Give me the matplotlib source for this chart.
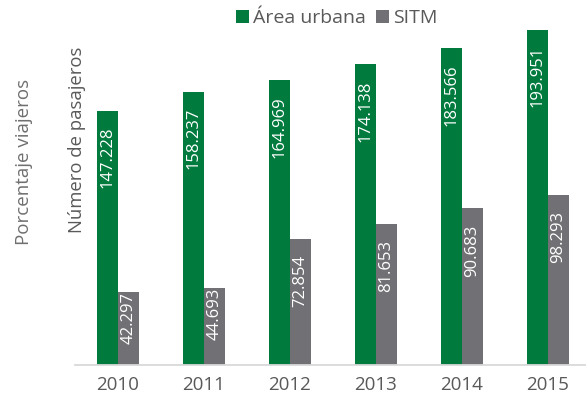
import numpy as np
import matplotlib.pyplot as plt

plt.rcParams['font.family'] = ['Open Sans', 'DejaVu Sans']

years = ['2010', '2011', '2012', '2013', '2014', '2015']
area_urbana = [147.228, 158.237, 164.969, 174.138, 183.566, 193.951]
sitm = [42.297, 44.693, 72.854, 81.653, 90.683, 98.293]

green = '#007A3D'
gray = '#717074'
txt = '#595959'

fig = plt.figure(figsize=(5.86, 4.03), dpi=100)
ax = fig.add_axes([0.128, 0.0943, 0.8805, 0.9057])

x = np.arange(len(years))
w = 0.24
b1 = ax.bar(x - w / 2, area_urbana, w, color=green, label='Área urbana')
b2 = ax.bar(x + w / 2, sitm, w, color=gray, label='SITM')

# value labels inside the top of each bar
for bars, vals in ((b1, area_urbana), (b2, sitm)):
    for r, v in zip(bars, vals):
        off = -16 if v > 60 else 0
        ax.annotate(f'{v:.3f}', (r.get_x() + r.get_width() / 2, v),
                    xytext=(0, off), textcoords='offset pixels',
                    rotation=90, ha='center', va='top',
                    color='white', fontsize=12)

ax.set_xlim(-0.5, 5.5)
ax.set_ylim(0, 211.3)
ax.set_xticks(x)
ax.set_xticklabels(years, fontsize=13.5, color=txt)
ax.tick_params(axis='x', length=0, pad=8)
ax.set_yticks([])
for s in ['top', 'right', 'left']:
    ax.spines[s].set_visible(False)
ax.spines['bottom'].set_color('#d9d9d9')
ax.spines['bottom'].set_linewidth(1.3)
ax.patch.set_alpha(0)

fig.legend(loc='center', bbox_to_anchor=(0.575, 0.955), ncol=2, frameon=False,
           fontsize=14, labelcolor=txt, handlelength=0.65, handleheight=0.65,
           handletextpad=0.25, columnspacing=0.5)

fig.text(77 / 586, 1 - 140 / 403, 'Número de pasajeros', rotation=90,
         ha='center', va='center', fontsize=13.3, color=txt)
fig.text(24 / 586, 1 - 162 / 403, 'Porcentaje viajeros', rotation=90,
         ha='center', va='center', fontsize=13.5, color='#6f6f6f')

fig.savefig('out.png', dpi=100)
